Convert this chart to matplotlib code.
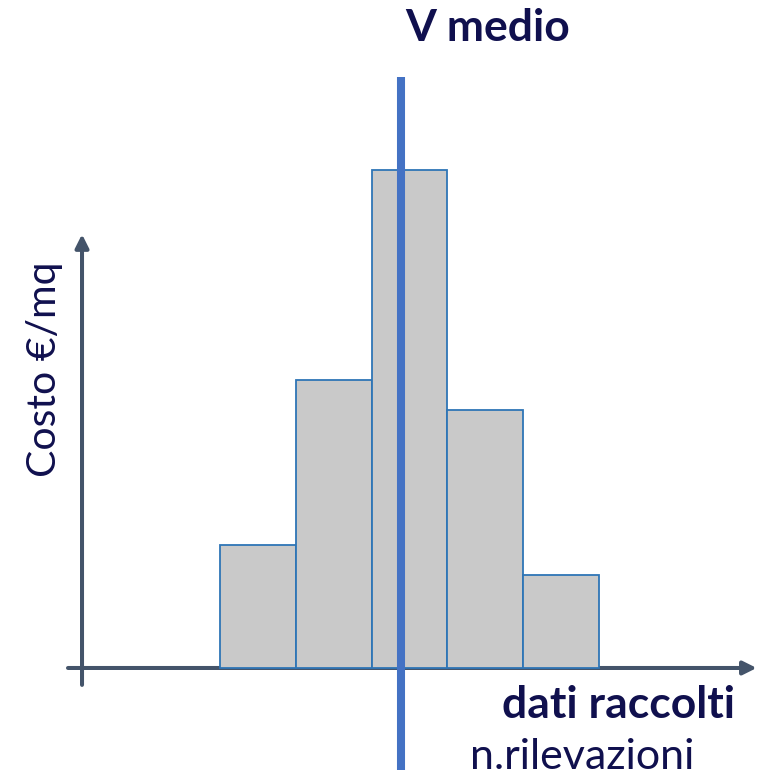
import matplotlib
matplotlib.use('Agg')
import matplotlib.pyplot as plt

# istogramma dei dati raccolti
bins = [0, 1, 2, 3, 4]
heights = [2.47, 5.78, 10.0, 5.18, 1.87]
v_medio = 2.39

axis_col = '#44546A'
text_col = '#10104E'

plt.rcParams['font.family'] = ['Lato', 'DejaVu Sans']

fig = plt.figure(figsize=(7.59, 7.75), dpi=100)
ax = fig.add_axes([0, 0, 1, 1])
ax.set_xlim(-2.902, 7.111)
ax.set_ylim(-2.149, 13.414)
ax.axis('off')

ax.bar(bins, heights, width=1.0, align='edge', color='#C9C9C9',
       edgecolor='#2E75B6', linewidth=1.3, zorder=2)

# assi con freccia
ax.annotate('', xy=(7.08, 0), xytext=(-2.005, 0),
            arrowprops=dict(arrowstyle='-|>', color=axis_col, lw=2.9,
                            mutation_scale=20, shrinkA=0, shrinkB=0), zorder=1)
ax.annotate('', xy=(-1.82, 8.71), xytext=(-1.82, -0.34),
            arrowprops=dict(arrowstyle='-|>', color=axis_col, lw=2.9,
                            mutation_scale=20, shrinkA=0, shrinkB=0), zorder=1)

ax.plot([v_medio, v_medio], [-2.05, 11.87], color='#4472C4', lw=5.8,
        solid_capstyle='butt', zorder=3)

fig.text(488 / 759, 1 - 28 / 775, 'V medio', ha='center', va='center',
         fontsize=32, fontweight='bold', color=text_col)
fig.text(619 / 759, 1 - 705 / 775, 'dati raccolti', ha='center', va='center',
         fontsize=32, fontweight='bold', color=text_col)
fig.text(582 / 759, 1 - 757 / 775, 'n.rilevazioni', ha='center', va='center',
         fontsize=31, color=text_col)
fig.text(45 / 759, 1 - 369 / 775, 'Costo €/mq', ha='center', va='center',
         fontsize=29.5, rotation=90, color=text_col)

fig.savefig('out.png', dpi=100)
